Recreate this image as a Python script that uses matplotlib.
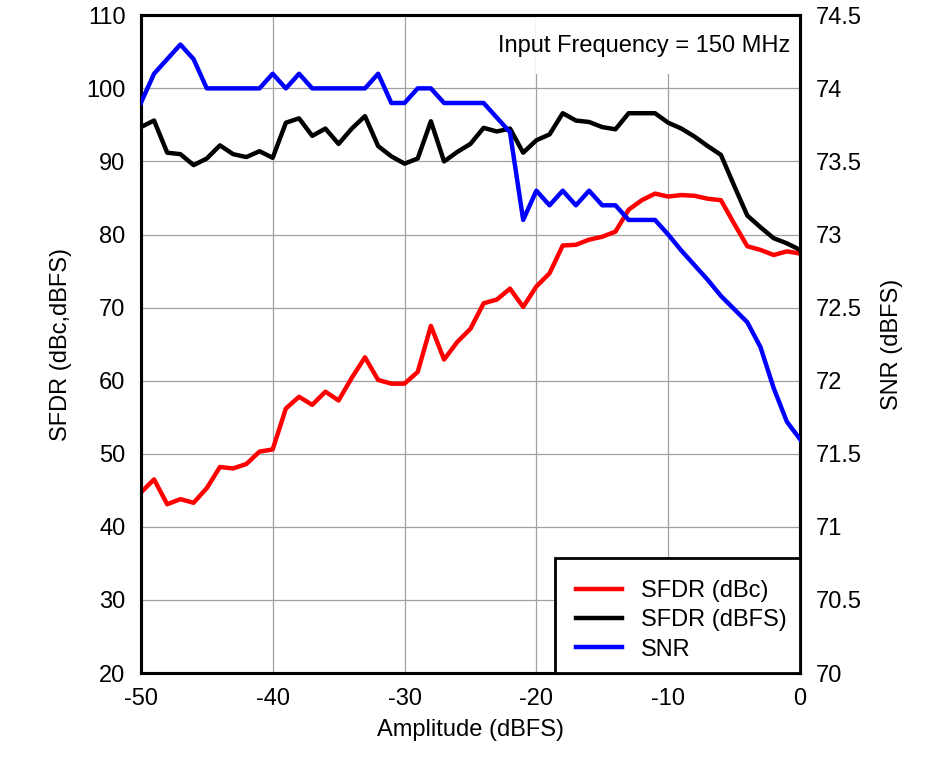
import numpy as np
import matplotlib
matplotlib.use('Agg')
import matplotlib.pyplot as plt
from matplotlib.patches import Rectangle

plt.rcParams['font.family'] = ['Liberation Sans', 'DejaVu Sans']
plt.rcParams['axes.unicode_minus'] = False

# Amplitude sweep, 1 dB steps
amplitude = np.arange(-50, 1, 1)

sfdr_dbc = [44.7, 46.5, 43.1, 43.8, 43.3, 45.3, 48.2, 48.0, 48.6, 50.3,
            50.6, 56.2, 57.8, 56.7, 58.5, 57.3, 60.4, 63.2, 60.1, 59.6,
            59.6, 61.2, 67.5, 62.9, 65.3, 67.1, 70.6, 71.1, 72.6, 70.1,
            72.9, 74.7, 78.5, 78.6, 79.3, 79.7, 80.4, 83.4, 84.7, 85.6,
            85.2, 85.4, 85.3, 84.9, 84.7, 81.5, 78.4, 77.9, 77.2, 77.7,
            77.4]

sfdr_dbfs = [94.7, 95.6, 91.2, 91.0, 89.5, 90.4, 92.2, 91.0, 90.6, 91.4,
             90.5, 95.3, 95.9, 93.5, 94.5, 92.4, 94.5, 96.2, 92.1, 90.7,
             89.7, 90.4, 95.5, 90.0, 91.3, 92.4, 94.6, 94.1, 94.5, 91.2,
             92.9, 93.7, 96.6, 95.6, 95.4, 94.7, 94.4, 96.6, 96.6, 96.6,
             95.3, 94.5, 93.4, 92.1, 90.9, 86.7, 82.6, 81.0, 79.5, 78.8,
             77.9]

snr = [73.9, 74.1, 74.2, 74.3, 74.2, 74.0, 74.0, 74.0, 74.0, 74.0,
       74.1, 74.0, 74.1, 74.0, 74.0, 74.0, 74.0, 74.0, 74.1, 73.9,
       73.9, 74.0, 74.0, 73.9, 73.9, 73.9, 73.9, 73.8, 73.7, 73.1,
       73.3, 73.2, 73.3, 73.2, 73.3, 73.2, 73.2, 73.1, 73.1, 73.1,
       73.0, 72.89, 72.79, 72.69, 72.58, 72.49, 72.4, 72.23, 71.95, 71.72,
       71.6]

fs = 17

fig = plt.figure(figsize=(9.39, 7.64), dpi=100)
ax = fig.add_axes([0.150, 0.119, 0.702, 0.861])
ax2 = ax.twinx()

ax.grid(True, color='#a0a0a0', linewidth=0.9, zorder=0)
ax.set_axisbelow(True)

# white area behind the annotation hides the grid there
ax2.add_patch(Rectangle((0.6, 0.91), 0.4, 0.09, transform=ax2.transAxes,
                        facecolor='white', edgecolor='none', zorder=1))
# legend box (drawn separately, the padding is not symmetric)
ax2.add_patch(Rectangle((0.628, 0.0), 0.372, 0.175, transform=ax2.transAxes,
                        facecolor='white', edgecolor='black', linewidth=2.0, zorder=4))

l1, = ax.plot(amplitude, sfdr_dbc, color='#ff0000', linewidth=3.2, label='SFDR (dBc)', zorder=3)
l2, = ax.plot(amplitude, sfdr_dbfs, color='black', linewidth=3.2, label='SFDR (dBFS)', zorder=3)
l3, = ax2.plot(amplitude, snr, color='#0000ff', linewidth=3.2, label='SNR', zorder=3)

ax.set_xlim(-50, 0)
ax.set_ylim(20, 110)
ax2.set_ylim(70, 74.5)
ax.set_xticks(np.arange(-50, 1, 10))
ax.set_yticks(np.arange(20, 111, 10))
ax2.set_yticks(np.arange(70, 74.6, 0.5))
ax2.set_yticklabels(['70', '70.5', '71', '71.5', '72', '72.5', '73', '73.5', '74', '74.5'])

for a in (ax, ax2):
    a.tick_params(length=0, labelsize=fs, pad=11)
    for s in a.spines.values():
        s.set_linewidth(2.2)

ax.set_xlabel('Amplitude (dBFS)', fontsize=fs, labelpad=6)
ax.set_ylabel('SFDR (dBc,dBFS)', fontsize=fs, labelpad=10)
ax2.set_ylabel('SNR (dBFS)', fontsize=fs, labelpad=14)

ax2.text(0.985, 0.954, 'Input Frequency = 150 MHz', transform=ax2.transAxes,
         ha='right', va='center', fontsize=fs, zorder=5)

leg = ax2.legend(handles=[l1, l2, l3], loc='upper left', bbox_to_anchor=(0.660, 0.141),
                 fontsize=fs, frameon=False, borderaxespad=0, borderpad=0,
                 handlelength=1.95, handletextpad=0.8, labelspacing=0.3)
leg.set_zorder(6)

plt.savefig('out.png', dpi=100)
